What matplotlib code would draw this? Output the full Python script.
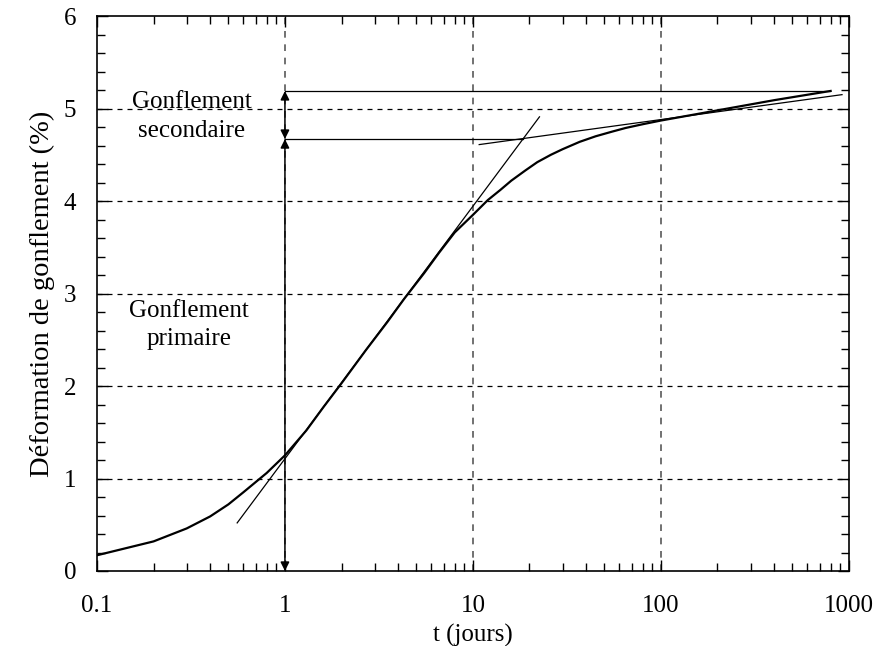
import matplotlib
matplotlib.use('Agg')
import matplotlib.pyplot as plt
from matplotlib.ticker import LogLocator, FixedLocator, FixedFormatter, MultipleLocator, NullFormatter

# courbe de gonflement
t_jours = [0.1, 0.2, 0.3, 0.4, 0.5, 0.6, 0.8, 1.0, 1.3, 1.6, 2.0, 2.7, 3.5, 4.3,
           5.5, 6.6, 8.0, 10, 12, 14, 16, 19, 22, 26, 30, 37, 45, 55, 65, 80,
           100, 200, 400, 800]
deformation = [0.17, 0.32, 0.46, 0.59, 0.72, 0.85, 1.06, 1.25, 1.52, 1.77, 2.03, 2.39,
               2.69, 2.94, 3.22, 3.44, 3.66, 3.85, 4.01, 4.12, 4.22, 4.33, 4.42, 4.50,
               4.56, 4.64, 4.70, 4.75, 4.79, 4.83, 4.87, 4.98, 5.09, 5.19]

# tangentes
tan_prim_t = [0.557, 22.6]
tan_prim_y = [0.52, 4.91]
tan_sec_t = [10.8, 920]
tan_sec_y = [4.61, 5.15]

# niveaux horizontaux
t_ref = 1.0
y_sec_haut = 5.19
y_prim_fin = 4.67
t_fin_haut = 796
t_fin_bas = 18.4

xticks = [0.1, 1, 10, 100, 1000]
xlabels = ['0.1', '1', '10', '100', '1000']

plt.rcParams['font.family'] = ['Liberation Serif', 'DejaVu Serif']
fs = 18

fig = plt.figure(figsize=(8.76, 6.46), dpi=100)
ax = fig.add_axes([0.1107, 0.1161, 0.8583, 0.8591])

ax.set_xscale('log')
ax.set_xlim(0.1, 1000)
ax.set_ylim(0, 6)

# grille
for xv in [1, 10, 100]:
    ax.axvline(xv, color='0.35', lw=1.2, ls=(0, (4, 4)), zorder=1)
for yv in [1, 2, 3, 4, 5]:
    ax.axhline(yv, color='k', lw=0.9, ls=(0, (4, 4)), zorder=1)

ax.plot(t_jours, deformation, color='k', lw=1.6, zorder=3)
ax.plot(tan_prim_t, tan_prim_y, color='k', lw=0.9, zorder=2)
ax.plot(tan_sec_t, tan_sec_y, color='k', lw=0.9, zorder=2)
ax.plot([t_ref, t_fin_haut], [y_sec_haut, y_sec_haut], color='k', lw=0.9)
ax.plot([t_ref, t_fin_bas], [y_prim_fin, y_prim_fin], color='k', lw=0.9)

arrow = dict(arrowstyle='<|-|>', color='k', lw=1.1, mutation_scale=13,
             shrinkA=0, shrinkB=0)
ax.annotate('', xy=(t_ref, 0), xytext=(t_ref, y_prim_fin), arrowprops=arrow)
ax.annotate('', xy=(t_ref, y_prim_fin), xytext=(t_ref, y_sec_haut), arrowprops=arrow)

ax.text(0.319, 4.91, 'Gonflement\nsecondaire', ha='center', va='center',
        fontsize=fs, linespacing=1.4)
ax.text(0.31, 2.66, 'Gonflement\nprimaire', ha='center', va='center',
        fontsize=fs, linespacing=1.4)

ax.xaxis.set_major_locator(FixedLocator(xticks))
ax.xaxis.set_major_formatter(FixedFormatter(xlabels))
ax.xaxis.set_minor_locator(LogLocator(base=10, subs=range(2, 10)))
ax.xaxis.set_minor_formatter(NullFormatter())
ax.yaxis.set_major_locator(MultipleLocator(1))
ax.yaxis.set_minor_locator(MultipleLocator(0.2))

ax.tick_params(which='both', direction='in', top=True, right=True,
               labelsize=fs, width=1)
ax.tick_params(axis='x', pad=17)
ax.tick_params(axis='y', pad=15)
ax.tick_params(which='major', length=8)
ax.tick_params(which='minor', length=6)
for s in ax.spines.values():
    s.set_linewidth(1.2)

ax.set_xlabel('t (jours)', fontsize=fs, labelpad=5)
ax.set_ylabel('Déformation de gonflement (%)', fontsize=20.5, labelpad=6)

fig.savefig('out.png', dpi=100)
